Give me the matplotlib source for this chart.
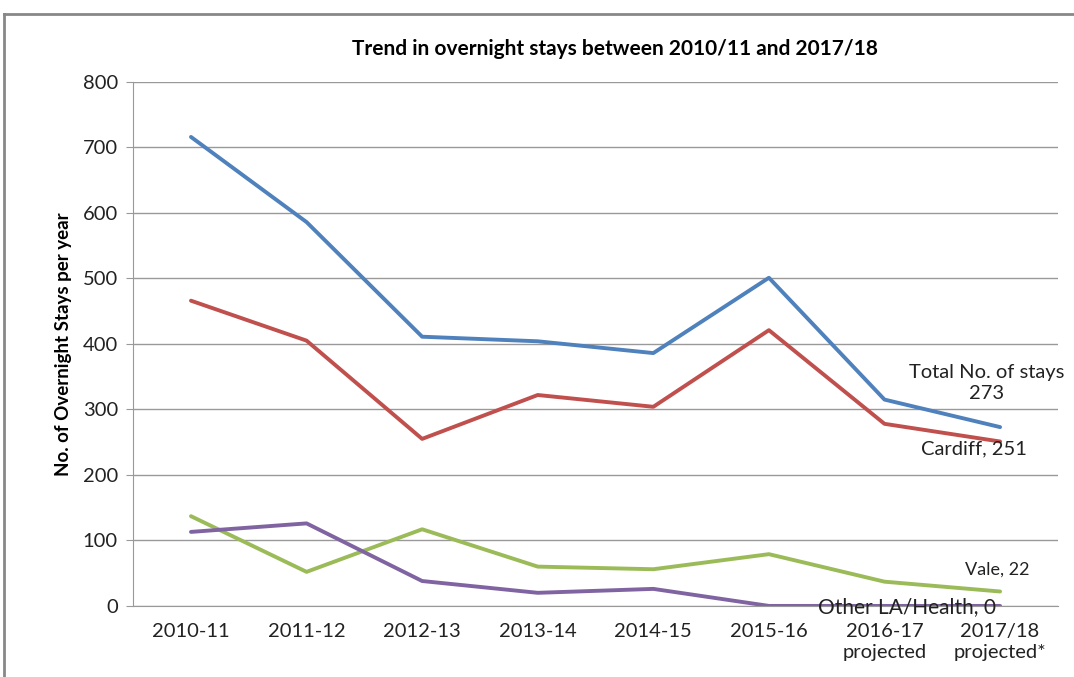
import numpy as np
import matplotlib
matplotlib.use('Agg')
import matplotlib.pyplot as plt
from matplotlib.lines import Line2D

plt.rcParams['font.family'] = ['Lato', 'DejaVu Sans']

# data
years = ['2010-11', '2011-12', '2012-13', '2013-14', '2014-15', '2015-16',
         '2016-17\nprojected', '2017/18\nprojected*']
total = [716, 586, 411, 404, 386, 501, 315, 273]
cardiff = [466, 405, 255, 322, 304, 421, 278, 251]
vale = [137, 52, 117, 60, 56, 79, 37, 22]
other = [113, 126, 38, 20, 26, 0, 0, 0]

fig = plt.figure(figsize=(10.74, 6.77), dpi=100)
ax = fig.add_axes([0.124, 0.105, 0.861, 0.774])

x = np.arange(len(years))
ax.plot(x, total, color='#4F81BD', lw=2.8, solid_capstyle='round')
ax.plot(x, cardiff, color='#C0504D', lw=2.8, solid_capstyle='round')
ax.plot(x, vale, color='#9BBB59', lw=2.8, solid_capstyle='round')
ax.plot(x, other, color='#8064A2', lw=2.8, solid_capstyle='round')

ax.set_ylim(0, 800)
ax.set_xlim(-0.5, len(years) - 0.5)
ax.set_yticks(range(0, 801, 100))
ax.set_xticks(x)
ax.set_xticklabels(years, fontsize=14.5, color='#222222', linespacing=1.3)
ax.tick_params(axis='y', labelsize=14.5, colors='#222222', length=5, color='#999999', pad=6)
ax.tick_params(axis='x', length=0, pad=12)
ax.grid(axis='y', color='#999999', lw=1)
ax.set_axisbelow(True)
for s in ['top', 'right']:
    ax.spines[s].set_visible(False)
for s in ['left', 'bottom']:
    ax.spines[s].set_color('#999999')

ax.set_ylabel('No. of Overnight Stays per year', fontsize=13.5, fontweight='bold', labelpad=8)
fig.text(0.573, 0.927, 'Trend in overnight stays between 2010/11 and 2017/18',
         ha='center', va='center', fontsize=15, fontweight='bold')

# end-of-line labels
last = len(years) - 1
ax.annotate('Total No. of stays\n273', (last, total[-1]), xytext=(-10, 32),
            textcoords='offset points', ha='center', va='center', fontsize=14.5,
            color='#222222', linespacing=1.3)
ax.annotate('Cardiff, 251', (last, cardiff[-1]), xytext=(-19, -5),
            textcoords='offset points', ha='center', va='center', fontsize=14.5,
            color='#222222')
ax.annotate('Vale, 22', (last, vale[-1]), xytext=(-2, 16),
            textcoords='offset points', ha='center', va='center', fontsize=13,
            color='#222222')
ax.annotate('Other LA/Health, 0', (last, other[-1]), xytext=(-67, -1),
            textcoords='offset points', ha='center', va='center', fontsize=15,
            color='#222222')

# outer chart frame
fig.add_artist(Line2D([0.004, 0.004], [0, 0.979], color='#888888', lw=2))
fig.add_artist(Line2D([0.004, 1.0], [0.979, 0.979], color='#888888', lw=2))

fig.savefig('out.png', dpi=100)
